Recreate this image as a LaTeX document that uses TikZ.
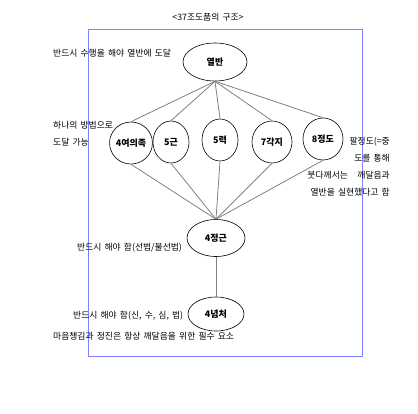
\documentclass[tikz,border=0pt]{standalone}
\usepackage{fontspec}
\setmainfont[WordSpace=1.6]{Noto Sans CJK KR}
\usetikzlibrary{shapes.geometric}

\begin{document}
\begin{tikzpicture}[x=1pt, y=-1pt, every node/.style={font=\fontsize{8.8}{17}\selectfont}, oval/.style={draw, ellipse, semithick, inner sep=0pt, minimum width=40pt, minimum height=42pt, font=\fontsize{9}{10}\selectfont\bfseries}, link/.style={draw=gray, thick}, note/.style={anchor=west, inner sep=0pt, align=left}]
\useasboundingbox (0,0) rectangle (418,413);
\draw[blue!50, semithick] (88,29) rectangle (362,356);
\node[inner sep=0pt] (title) at (208,17) {<37조도품의 구조>};
\node[oval, minimum width=64pt, minimum height=38pt] (nir) at (215,62) {열반};
\node[oval] (yeo) at (131,143) {4여의족};
\node[oval, minimum width=36pt] (geun) at (171,142) {5근};
\node[oval, minimum width=36pt] (ryeok) at (220,140) {5력};
\node[oval] (gak) at (272,142) {7각지};
\node[oval] (jeong) at (323,139) {8정도};
\node[oval, minimum width=58pt, minimum height=37pt] (jg) at (216,238) {4정근};
\node[oval, minimum width=56pt, minimum height=34pt] (nc) at (216,314) {4념처};
\node[note] (t1) at (53,53) {반드시 수행을 해야 열반에 도달};
\node[note] (t2) at (53,134) {하나의 방법으로\\도달 가능};
\node[inner sep=0pt, align=right, anchor=east] (t3) at (390,167) {팔정도(=중\\도를 통해\\붓다께서는 \ \ 깨달음과\\열반을 실현했다고 함};
\node[note] (t4) at (77,248) {반드시 해야 함(선법/불선법)};
\node[note] (t5) at (73,316) {반드시 해야 함(신, 수, 심, 법)};
\node[note] (t6) at (53,336) {마음챙김과 정진은 항상 깨달음을 위한 필수 요소};
\foreach \n in {yeo,geun,ryeok,gak,jeong}{
  \draw[link] (nir.south) -- (\n.north);
  \draw[link] (\n.south) -- (jg.north);
}
\draw[link] (jg) -- (nc);
\end{tikzpicture}
\end{document}
